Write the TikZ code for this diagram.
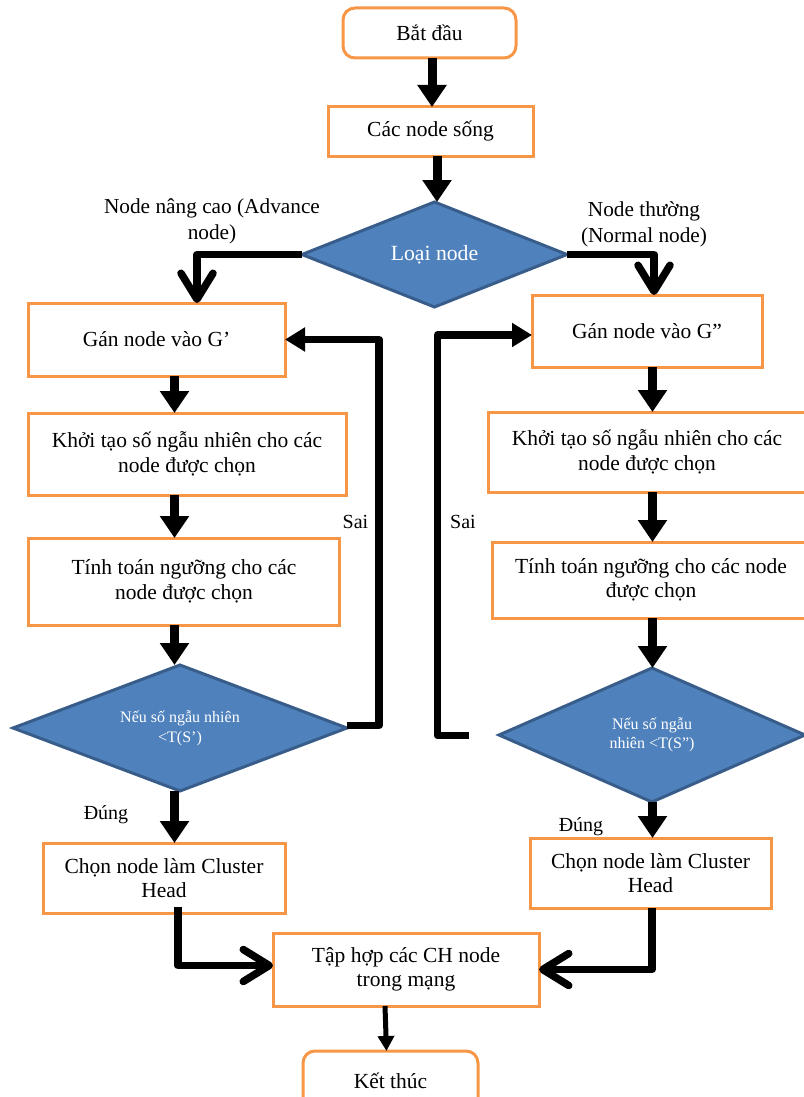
\documentclass[tikz,border=0pt]{standalone}
\usepackage{fontspec}
\setmainfont{Liberation Serif}
\usetikzlibrary{shapes.geometric,arrows.meta}
\definecolor{boxorange}{HTML}{F79646}
\definecolor{decfill}{HTML}{4F81BD}
\definecolor{decline}{HTML}{385D8A}
\begin{document}
\begin{tikzpicture}[x=1pt,y=-1pt,
  box/.style={draw=boxorange, line width=3pt, fill=white, inner sep=0pt, outer sep=0pt,
    align=center, font=\fontsize{21.5}{24.5}\selectfont},
  terminal/.style={box, rounded corners=12pt},
  decision/.style={diamond, draw=decline, fill=decfill, line width=3pt, text=white,
    inner sep=0pt, outer sep=0pt, align=center},
  lbl/.style={align=center, font=\fontsize{20}{26}\selectfont, inner sep=0pt},
  biglbl/.style={lbl, font=\fontsize{21.3}{26}\selectfont},
  flow/.style={line width=9pt, -{Triangle[length=22pt,width=28pt]}},
  branch/.style={line width=7.5pt, line join=round, -{Straight Barb[round,length=26pt,width=32pt]}},
  loopback/.style={line width=7.5pt, line join=round, -{Triangle[length=20pt,width=23pt]}},
  finish/.style={line width=5pt, -{Triangle[length=15pt,width=16pt]}}]
\useasboundingbox (0,0) rectangle (803,1097);

% column guides for the vertical arrows
\coordinate (c0) at (432,0);
\coordinate (c0b) at (437,0);
\coordinate (cL) at (174.5,0);
\coordinate (cR) at (652.5,0);

% top part
\node[terminal, minimum width=173pt, minimum height=50pt] (start) at (429.5,33) {Bắt đầu};
\node[box, minimum width=205pt, minimum height=49pt] (alive) at (430.5,131.5) {Các node sống};
\node[decision, minimum width=265pt, minimum height=105pt, aspect=2.52,
      font=\fontsize{21.7}{24}\selectfont] (dtype) at (434.5,254.5) {Loại node};

% advanced-node branch
\node[box, minimum width=257pt, minimum height=73pt] (ganL) at (156.5,339.5) {Gán node vào G’};
\node[box, minimum width=318pt, minimum height=82pt] (initL) at (187,454) {Khởi tạo số ngẫu nhiên cho các\\node được chọn};
\node[box, minimum width=311pt, minimum height=87pt] (thrL) at (184,581.5) {Tính toán ngưỡng cho các\\node được chọn};
\node[decision, minimum width=334pt, minimum height=126pt, aspect=2.65,
      font=\fontsize{16}{20}\selectfont] (dL) at (180,728) {Nếu số ngẫu nhiên\\<T(S’)};
\node[box, minimum width=242pt, minimum height=70pt] (chL) at (164,878) {Chọn node làm Cluster\\Head};

% normal-node branch
\node[box, minimum width=230pt, minimum height=72pt] (ganR) at (647,331) {Gán node vào G”};
\node[box, minimum width=318pt, minimum height=80pt] (initR) at (647,452) {Khởi tạo số ngẫu nhiên cho các\\node được chọn};
\node[box, minimum width=318pt, minimum height=76pt] (thrR) at (651,580) {Tính toán ngưỡng cho các node\\được chọn};
\node[decision, minimum width=306pt, minimum height=134pt, aspect=2.28,
      font=\fontsize{16}{19.5}\selectfont] (dR) at (652,735) {Nếu số ngẫu\\nhiên <T(S”)};
\node[box, minimum width=241pt, minimum height=70pt] (chR) at (650.5,873) {Chọn node làm Cluster\\Head};

% collection and end
\node[box, minimum width=266pt, minimum height=73pt] (coll) at (406,969.5) {Tập hợp các CH node\\trong mạng};
\node[terminal, minimum width=175pt, minimum height=60pt] (stop) at (390.5,1081) {Kết thúc};

% labels
\node[biglbl] (lAdv) at (212,221) {Node nâng cao (Advance\\node)};
\node[biglbl] (lNorm) at (644,224) {Node thường\\(Normal node)};
\node[lbl] (sL) at (355.5,522) {Sai};
\node[lbl] (sR) at (463,522) {Sai};
\node[lbl] (yL) at (106,815) {Đúng};
\node[lbl] (yR) at (581,827) {Đúng};

% main flow
\draw[flow] (start.south -| c0) -- (alive.north -| c0);
\draw[flow] (alive.south -| c0b) -- (dtype.north -| c0b);

\draw[branch] (dtype.west) -| ([xshift=40.5pt]ganL.north);
\draw[branch] (dtype.east) -| ([xshift=7pt]ganR.north);

\draw[flow] (ganL.south -| cL) -- (initL.north -| cL);
\draw[flow] (initL.south -| cL) -- (thrL.north -| cL);
\draw[flow] (thrL.south -| cL) -- (dL.north -| cL);
\draw[flow] (dL.south -| cL) -- (chL.north -| cL);

\draw[flow] (ganR.south -| cR) -- (initR.north -| cR);
\draw[flow] (initR.south -| cR) -- (thrR.north -| cR);
\draw[flow] (thrR.south -| cR) -- (dR.north -| cR);
\draw[flow] (dR.south -| cR) -- (chR.north -| cR);

% "Sai" loops back
\draw[loopback] ([yshift=2.5pt]dL.east) -- ++(32,0) |- (ganL.east);
\coordinate (loopR) at (469,735.5);
\draw[loopback] (loopR) -- (437.5,735.5) |- ([yshift=-4pt]ganR.west);

% into the collection box
\draw[branch] ([xshift=14pt,yshift=6pt]chL.south) |- ([yshift=4pt]coll.west);
\draw[branch] ([xshift=1.5pt]chR.south) |- (coll.east);
\draw[finish] ([xshift=-21pt]coll.south) -- ([xshift=-4pt]stop.north);
\end{tikzpicture}
\end{document}
